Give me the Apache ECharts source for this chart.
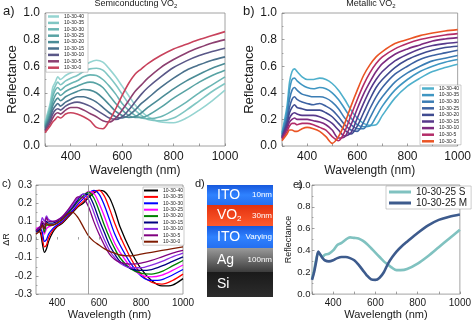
<!DOCTYPE html>
<html><head><meta charset="utf-8">
<script src="https://cdn.jsdelivr.net/npm/echarts@6/dist/echarts.min.js"></script>
<style>html,body{margin:0;padding:0;background:#fff}#c{width:474px;height:321px}</style>
</head><body><div id="c"></div>
<script>
// ---------- data ----------
const wavelengths = [300,320,330,340,350,360,380,400,425,450,475,500,525,550,575,600,625,650,675,700,750,800,850,900,950,1000];
const sampleNames = ['10-30-40','10-30-35','10-30-30','10-30-25','10-30-20','10-30-15','10-30-10','10-30-5','10-30-0'];

// a) semiconducting VO2 reflectance
const semiR40 = [0.18,0.32,0.44,0.48,0.52,0.50,0.53,0.55,0.57,0.60,0.63,0.645,0.63,0.58,0.52,0.45,0.38,0.31,0.26,0.22,0.18,0.175,0.21,0.27,0.34,0.42];
const semiR35 = [0.17,0.30,0.40,0.45,0.48,0.46,0.49,0.51,0.53,0.56,0.58,0.585,0.57,0.52,0.46,0.39,0.32,0.27,0.23,0.20,0.19,0.21,0.27,0.34,0.41,0.47];
const semiR30 = [0.16,0.28,0.37,0.42,0.44,0.42,0.45,0.47,0.49,0.52,0.535,0.53,0.50,0.45,0.39,0.32,0.27,0.23,0.21,0.205,0.22,0.27,0.33,0.40,0.46,0.52];
const semiR25 = [0.15,0.25,0.33,0.38,0.40,0.38,0.41,0.43,0.45,0.47,0.48,0.47,0.44,0.38,0.32,0.27,0.23,0.215,0.215,0.23,0.29,0.36,0.42,0.48,0.53,0.57];
const semiR20 = [0.14,0.23,0.30,0.34,0.36,0.34,0.37,0.39,0.41,0.425,0.42,0.40,0.36,0.31,0.26,0.23,0.215,0.22,0.25,0.29,0.36,0.43,0.49,0.54,0.585,0.62];
const semiR15 = [0.13,0.21,0.27,0.30,0.32,0.30,0.33,0.35,0.37,0.37,0.355,0.33,0.29,0.25,0.22,0.21,0.23,0.27,0.32,0.36,0.44,0.51,0.57,0.61,0.645,0.67];
const semiR10 = [0.12,0.19,0.24,0.27,0.28,0.27,0.30,0.32,0.33,0.32,0.30,0.27,0.24,0.21,0.20,0.22,0.27,0.33,0.39,0.44,0.52,0.59,0.64,0.68,0.71,0.735];
const semiR5  = [0.11,0.17,0.21,0.24,0.25,0.24,0.27,0.29,0.29,0.27,0.245,0.22,0.19,0.18,0.21,0.27,0.34,0.41,0.46,0.51,0.59,0.65,0.70,0.74,0.775,0.80];
const semiR0  = [0.10,0.15,0.18,0.20,0.22,0.21,0.24,0.25,0.24,0.22,0.19,0.14,0.13,0.19,0.28,0.38,0.47,0.54,0.58,0.62,0.68,0.73,0.765,0.80,0.83,0.86];

// b) metallic VO2 reflectance
const metR40 = [0.10,0.30,0.48,0.56,0.58,0.56,0.52,0.50,0.50,0.51,0.50,0.47,0.42,0.35,0.27,0.21,0.17,0.155,0.16,0.23,0.36,0.45,0.51,0.56,0.59,0.615];
const metR35 = [0.09,0.26,0.42,0.50,0.51,0.49,0.46,0.44,0.43,0.44,0.43,0.40,0.35,0.28,0.21,0.16,0.145,0.15,0.22,0.30,0.42,0.50,0.56,0.60,0.63,0.65];
const metR30 = [0.08,0.22,0.35,0.42,0.44,0.42,0.39,0.38,0.37,0.37,0.36,0.33,0.28,0.21,0.16,0.13,0.13,0.21,0.30,0.37,0.48,0.55,0.60,0.64,0.66,0.68];
const metR25 = [0.07,0.19,0.29,0.35,0.37,0.35,0.33,0.32,0.31,0.32,0.30,0.27,0.22,0.16,0.12,0.11,0.18,0.28,0.37,0.44,0.54,0.60,0.65,0.68,0.70,0.72];
const metR20 = [0.07,0.17,0.25,0.29,0.31,0.29,0.28,0.27,0.27,0.27,0.25,0.22,0.17,0.12,0.09,0.15,0.25,0.35,0.44,0.50,0.59,0.65,0.69,0.72,0.74,0.75];
const metR15 = [0.06,0.15,0.21,0.24,0.25,0.24,0.23,0.23,0.23,0.22,0.20,0.17,0.12,0.075,0.10,0.21,0.32,0.42,0.50,0.56,0.64,0.69,0.73,0.755,0.77,0.78];
const metR10 = [0.06,0.13,0.18,0.20,0.21,0.20,0.20,0.20,0.19,0.18,0.16,0.12,0.06,0.07,0.16,0.28,0.39,0.48,0.56,0.62,0.69,0.73,0.76,0.79,0.805,0.815];
const metR5  = [0.05,0.11,0.15,0.17,0.17,0.16,0.17,0.17,0.16,0.14,0.12,0.07,0.04,0.11,0.23,0.35,0.46,0.55,0.62,0.67,0.73,0.77,0.80,0.82,0.835,0.845];
const metR0  = [0.04,0.09,0.12,0.12,0.11,0.11,0.13,0.14,0.13,0.11,0.07,0.02,0.07,0.17,0.30,0.42,0.53,0.61,0.67,0.71,0.77,0.80,0.83,0.85,0.865,0.875];

// c) delta R
const dR40 = [0.05,0.04,-0.02,-0.07,-0.05,-0.01,0.04,0.07,0.09,0.12,0.15,0.18,0.20,0.23,0.255,0.27,0.265,0.23,0.16,0.07,-0.06,-0.16,-0.225,-0.255,-0.25,-0.215];
const dR35 = [0.05,0.05,0.01,-0.04,-0.03,0.01,0.05,0.075,0.095,0.125,0.155,0.185,0.21,0.24,0.265,0.27,0.24,0.17,0.09,0.02,-0.10,-0.19,-0.235,-0.245,-0.225,-0.19];
const dR30 = [0.05,0.06,0.04,-0.01,0.00,0.03,0.06,0.08,0.10,0.13,0.16,0.195,0.225,0.255,0.27,0.25,0.19,0.11,0.03,-0.03,-0.13,-0.20,-0.225,-0.22,-0.195,-0.165];
const dR25 = [0.06,0.07,0.07,0.03,0.06,0.07,0.08,0.09,0.11,0.14,0.17,0.205,0.235,0.265,0.255,0.20,0.13,0.05,-0.02,-0.07,-0.15,-0.195,-0.205,-0.195,-0.17,-0.14];
const dR20 = [0.05,0.07,0.08,0.04,0.08,0.08,0.08,0.09,0.11,0.14,0.175,0.21,0.24,0.26,0.23,0.16,0.08,0.01,-0.05,-0.10,-0.16,-0.185,-0.19,-0.175,-0.145,-0.115];
const dR15 = [0.04,0.06,0.09,0.06,0.10,0.09,0.09,0.10,0.12,0.15,0.18,0.22,0.25,0.245,0.19,0.11,0.04,-0.03,-0.08,-0.12,-0.16,-0.17,-0.165,-0.145,-0.12,-0.095];
const dR10 = [0.05,0.07,0.12,0.10,0.13,0.11,0.10,0.105,0.125,0.155,0.19,0.23,0.25,0.22,0.15,0.07,0.00,-0.06,-0.10,-0.13,-0.155,-0.155,-0.14,-0.12,-0.095,-0.075];
const dR5  = [0.05,0.07,0.10,0.08,0.12,0.10,0.10,0.105,0.125,0.16,0.20,0.235,0.23,0.18,0.10,0.03,-0.03,-0.08,-0.11,-0.125,-0.135,-0.13,-0.115,-0.095,-0.075,-0.06];
const dR0  = [0.03,0.05,0.08,0.06,0.09,0.08,0.08,0.09,0.11,0.14,0.15,0.12,0.07,0.02,-0.01,-0.03,-0.05,-0.065,-0.075,-0.085,-0.09,-0.08,-0.07,-0.06,-0.05,-0.04];
const dRMarker = 550;

// d) layer stack, bottom to top
const layerNames = ['Si','Ag','ITO','VO2','ITO'];
const layerNotes = ['','100nm','Varying','30nm','10nm'];
const layerHeights = [25,24,22,21,20];

// e) 10-30-25 semiconducting vs metallic
const eWavelengths = [300,310,320,330,340,350,360,380,400,420,440,460,480,500,520,540,560,580,600,620,640,660,680,700,720,750,800,850,900,950,1000];
const eNames = ['10-30-25 S','10-30-25 M'];
const eS = [0.14,0.22,0.32,0.38,0.36,0.34,0.36,0.37,0.40,0.45,0.47,0.50,0.52,0.515,0.51,0.49,0.46,0.42,0.38,0.34,0.30,0.27,0.24,0.22,0.22,0.23,0.28,0.35,0.43,0.51,0.59];
const eM = [0.13,0.20,0.30,0.39,0.36,0.33,0.31,0.30,0.31,0.33,0.34,0.34,0.33,0.31,0.27,0.22,0.17,0.135,0.13,0.15,0.20,0.28,0.34,0.39,0.43,0.48,0.56,0.63,0.68,0.71,0.73];

// ---------- styles ----------
const semiColors = ['#95d4d1','#80c6c3','#6bb6b4','#58a3a4','#4b8c96','#4a718c','#5a5888','#8c3f70','#c8425c'];
const metColors  = ['#4fb0cc','#3f96c2','#3b7db4','#3d62a2','#3f4b90','#57398b','#7d2b80','#b32c68','#ea5424'];
const dColors    = ['#000000','#ff0000','#0000ff','#ff00ff','#008000','#000080','#8a2be2','#800080','#7f1a00'];
const eColors    = ['#80c2c0','#3d5b8d'];
const FONT = '"Liberation Sans", Arial, Helvetica, sans-serif';
const TXT = '#1a1a1a';

const semiR = [semiR40,semiR35,semiR30,semiR25,semiR20,semiR15,semiR10,semiR5,semiR0];
const metR  = [metR40,metR35,metR30,metR25,metR20,metR15,metR10,metR5,metR0];
const dR    = [dR40,dR35,dR30,dR25,dR20,dR15,dR10,dR5,dR0];

function grid(l,t,w,h,frame){ return {left:l, top:t, width:w, height:h, show:frame, borderColor:'#8c8c8c', borderWidth:0.8, backgroundColor:'transparent'}; }
function xAxisCfg(gi, fs, margin, nameGap, nameFs){
  return {type:'value', gridIndex:gi, min:300, max:1000, interval:100,
    axisLine:{show:false}, splitLine:{show:false},
    axisTick:{show:true, inside:true, length:2.5, lineStyle:{color:'#777', width:0.7}},
    axisLabel:{fontSize:fs, color:TXT, fontFamily:FONT, margin, showMinLabel:true, showMaxLabel:true, formatter:v => (v % 200 === 0 ? String(v) : '')},
    name:'Wavelength (nm)', nameLocation:'middle', nameGap, nameTextStyle:{fontSize:nameFs, color:TXT, fontFamily:FONT}};
}
function yAxisCfg(gi, min, max, interval, fs, margin, name, nameGap, nameFs){
  return {type:'value', gridIndex:gi, min, max, interval,
    axisLine:{show:false}, splitLine:{show:false},
    axisTick:{show:true, inside:true, length:2.5, lineStyle:{color:'#777', width:0.7}},
    minorTick:{show:true, splitNumber:2, length:1.5, lineStyle:{color:'#777', width:0.6}},
    axisLabel:{fontSize:fs, color:TXT, fontFamily:FONT, margin, showMinLabel:true, showMaxLabel:true, formatter:v => v.toFixed(1)},
    name, nameLocation:'middle', nameGap, nameTextStyle:{fontSize:nameFs, color:TXT, fontFamily:FONT}};
}
function lineSeries(prefix, names, values, colors, xs, idx, width, extra){
  return names.map((n,k)=>Object.assign({
    type:'line', name:prefix+n, xAxisIndex:idx, yAxisIndex:idx,
    data: xs.map((w,i)=>[w, values[k][i]]),
    showSymbol:false, smooth:0.3, animation:false,
    lineStyle:{width, color:colors[k]}, itemStyle:{color:colors[k]}
  }, extra && extra(k)));
}
function legendCfg(prefix, names, pos, iw, ih, gap, fs, extra){
  return Object.assign({
    data:names.map(n=>prefix+n), orient:'vertical', icon:'rect', selectedMode:false,
    itemWidth:iw, itemHeight:ih, itemGap:gap,
    borderColor:'#9a9a9a', borderWidth:0.5, backgroundColor:'#fff', borderRadius:0,
    textStyle:{fontSize:fs, lineHeight:fs, color:TXT, fontFamily:FONT},
    formatter:n => n.slice(prefix.length)
  }, pos, extra || {});
}

const layerFill = {
  'ITO': () => new echarts.graphic.LinearGradient(0,0,0,1,[{offset:0,color:'#1758dc'},{offset:0.5,color:'#2f82ff'},{offset:1,color:'#256ff0'}]),
  'VO2': () => new echarts.graphic.LinearGradient(0,0,0,1,[{offset:0,color:'#e2320f'},{offset:1,color:'#ff5a2c'}]),
  'Ag':  () => new echarts.graphic.LinearGradient(0,0,0,1,[{offset:0,color:'#9a9a9a'},{offset:1,color:'#3c3c3c'}]),
  'Si':  () => new echarts.graphic.LinearGradient(0,0,0,1,[{offset:0,color:'#1a1a1a'},{offset:1,color:'#2c2c2c'}])
};
const layerSeries = layerNames.map((n,i)=>({
  type:'bar', name:'d:'+n+i, stack:'film', xAxisIndex:3, yAxisIndex:3,
  data:[layerHeights[i]], barWidth:'100%', animation:false,
  itemStyle:{color:layerFill[n]()},
  label:{show:true, position:'insideLeft', distance:10,
    formatter:(n==='VO2' ? '{bv|VO}{sub|2}' : '{b|'+n+'}') + (layerNotes[i] ? '{s|'+layerNotes[i]+'}' : ''),
    rich:{
      b:{fontSize:14, color:'#fff', fontFamily:FONT, width:27},
      bv:{fontSize:14, color:'#fff', fontFamily:FONT, width:20},
      sub:{fontSize:8, color:'#fff', fontFamily:FONT, width:7, padding:[7,0,0,0]},
      s:{fontSize:8, color:'#fff', fontFamily:FONT, width:28, align:'right'}
    }}
}));

const totalHeight = layerHeights.reduce((a,b)=>a+b,0);
const titleStyle = fs => ({fontSize:fs, fontWeight:'normal', color:TXT, fontFamily:FONT,
  rich:{sub:{fontSize:6, color:TXT, fontFamily:FONT, padding:[4,0,0,0]}}});

const option = {
  backgroundColor:'#fff',
  animation:false,
  title:[
    {text:'Semiconducting VO{sub|2}', left:136, top:-1, textAlign:'center', padding:0, textStyle:titleStyle(9)},
    {text:'Metallic VO{sub|2}', left:371, top:-1, textAlign:'center', padding:0, textStyle:titleStyle(9)},
    {text:'a)', left:3, top:5, padding:0, textStyle:titleStyle(13)},
    {text:'b)', left:243, top:5, padding:0, textStyle:titleStyle(13)},
    {text:'c)', left:2, top:178, padding:0, textStyle:titleStyle(11)},
    {text:'d)', left:195, top:178, padding:0, textStyle:titleStyle(11)},
    {text:'e)', left:293, top:179, padding:0, textStyle:titleStyle(11)}
  ],
  grid:[grid(45,13,180,133,true), grid(282,13,180,133,true), grid(36,185,147,111,true), grid(207,185,66,112,false), grid(312,185,151,111,true)],
  xAxis:[
    xAxisCfg(0,12,5,19,12), xAxisCfg(1,12,5,19,12), xAxisCfg(2,10,4,14,11),
    {type:'category', gridIndex:3, data:['stack'], show:false},
    xAxisCfg(4,10,4,14,11)
  ],
  yAxis:[
    yAxisCfg(0,0,1,0.2,12,5,'Reflectance',20,13),
    yAxisCfg(1,0,1,0.2,12,5,'Reflectance',20,13),
    yAxisCfg(2,-0.3,0.3,0.1,10,4,'ΔR',23,9),
    {type:'value', gridIndex:3, min:0, max:totalHeight, show:false},
    yAxisCfg(4,0,1,0.2,9.5,1.5,'Reflectance',17,9)
  ],
  legend:[
    legendCfg('a:', sampleNames, {left:46, top:13}, 11, 2.5, 1.4, 5, {padding:[1,4,2,2]}),
    legendCfg('b:', sampleNames, {left:420, top:85}, 12, 2.5, 1.6, 5, {padding:[1,2,1,2]}),
    legendCfg('c:', sampleNames, {left:143, top:187}, 14, 2, 1.4, 5, {padding:[1,1,1,1]}),
    legendCfg('e:', eNames, {left:386, top:186}, 22, 3, 1, 10, {padding:[1,4,1,3]})
  ],
  series:[].concat(
    lineSeries('a:', sampleNames, semiR, semiColors, wavelengths, 0, 1.6),
    lineSeries('b:', sampleNames, metR, metColors, wavelengths, 1, 1.6),
    lineSeries('c:', sampleNames, dR, dColors, wavelengths, 2, 1.3, k => k===0 ? {markLine:{silent:true, symbol:'none', animation:false, label:{show:false}, lineStyle:{color:'#8c8c8c', width:0.8, type:'solid'}, data:[{xAxis:dRMarker}]}} : {}),
    layerSeries,
    lineSeries('e:', eNames, [eS,eM], eColors, eWavelengths, 4, 2.6)
  )
};
const chart = echarts.init(document.getElementById('c'), null, {renderer:'canvas'});
chart.setOption(option);
</script></body></html>
